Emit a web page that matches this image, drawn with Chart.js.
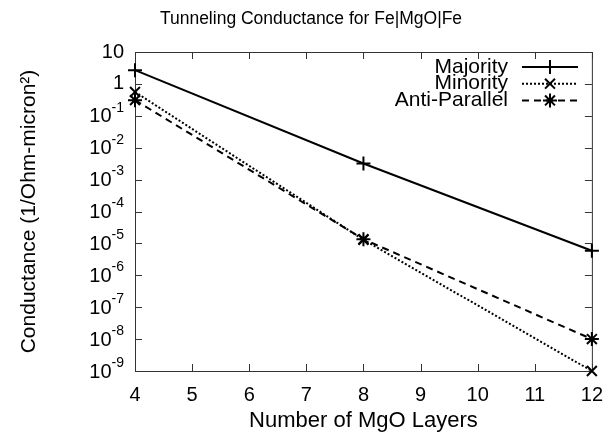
<!DOCTYPE html>
<html>
<head>
<meta charset="utf-8">
<script src="https://cdn.jsdelivr.net/npm/chart.js@4.4.1/dist/chart.umd.min.js"></script>
<style>
  html, body { margin: 0; padding: 0; background: #fff; }
  #wrap { width: 615px; height: 436px; }
</style>
</head>
<body>
<div id="wrap"><canvas id="grafik"></canvas></div>
<script>
// values
const layers = [4, 8, 12];
const majority = [2.7, 3.2e-3, 5.9e-6];
const minority = [0.56, 1.3e-5, 1.0e-9];
const antiParallel = [0.31, 1.35e-5, 1.0e-8];

const xTicks = [4, 5, 6, 7, 8, 9, 10, 11, 12];
const yTicks = [10, 1, 1e-1, 1e-2, 1e-3, 1e-4, 1e-5, 1e-6, 1e-7, 1e-8, 1e-9];

const chartTitle = 'Tunneling Conductance for Fe|MgO|Fe';
const FONT = "'Liberation Sans', Arial, sans-serif";

function pts(arr) {
    return layers.map((x, i) => ({ x: x, y: arr[i] }));
}

// frame, inward ticks on all four sides, y labels and the title
const frameTicks = {
    id: 'frameTicks',
    beforeDatasetsDraw(chart) {
        const ctx = chart.ctx;
        const a = chart.chartArea;
        const xs = chart.scales.x, ys = chart.scales.y;
        ctx.save();
        ctx.strokeStyle = '#333';
        ctx.lineWidth = 1;
        ctx.strokeRect(a.left + 0.5, a.top + 0.5, a.right - a.left, a.bottom - a.top);
        ctx.beginPath();
        xTicks.forEach(v => {
            const px = Math.round(xs.getPixelForValue(v)) + 0.5;
            ctx.moveTo(px, a.bottom); ctx.lineTo(px, a.bottom - 7);
            ctx.moveTo(px, a.top); ctx.lineTo(px, a.top + 7);
        });
        yTicks.forEach(v => {
            const py = Math.round(ys.getPixelForValue(v)) + 0.5;
            ctx.moveTo(a.left, py); ctx.lineTo(a.left + 7, py);
            ctx.moveTo(a.right, py); ctx.lineTo(a.right - 7, py);
        });
        ctx.stroke();

        ctx.fillStyle = '#000';
        ctx.textBaseline = 'middle';

        // title, sits a little left of the plot centre like the original
        ctx.textAlign = 'center';
        ctx.font = '17.5px ' + FONT;
        ctx.fillText(chartTitle, 311, 19);

        // y tick labels: 10 with a raised exponent
        ctx.textAlign = 'right';
        const right = a.left - 11;
        yTicks.forEach(v => {
            const py = ys.getPixelForValue(v);
            const e = Math.round(Math.log10(v));
            if (e >= 0) {
                ctx.font = '20px ' + FONT;
                ctx.fillText(e === 1 ? '10' : '1', right, py);
                return;
            }
            ctx.font = '14px ' + FONT;
            const ex = String(e);
            const w = ctx.measureText(ex).width;
            ctx.fillText(ex, right, py - 8);
            ctx.font = '20px ' + FONT;
            ctx.fillText('10', right - w, py + 1);
        });
        ctx.restore();
    }
};

// gnuplot style key: text right aligned, sample line with marker
const keyBox = {
    id: 'keyBox',
    afterDraw(chart) {
        const ctx = chart.ctx;
        ctx.save();
        ctx.font = '21px ' + FONT;
        ctx.textAlign = 'right';
        ctx.textBaseline = 'middle';
        ctx.fillStyle = '#000';
        chart.data.datasets.forEach((ds, i) => {
            const y = 67 + i * 16.7;
            ctx.fillText(ds.label, 508, y);
            ctx.beginPath();
            ctx.setLineDash(ds.borderDash || []);
            ctx.strokeStyle = ds.borderColor;
            ctx.lineWidth = ds.borderWidth;
            ctx.moveTo(522, y);
            ctx.lineTo(578, y);
            ctx.stroke();
            ctx.setLineDash([]);
            Chart.helpers.drawPoint(ctx, {
                pointStyle: ds.pointStyle,
                radius: ds.pointRadius,
                borderWidth: ds.pointBorderWidth
            }, 550, y);
        });
        ctx.restore();
    }
};

const ctx = document.getElementById('grafik').getContext('2d');

const veri = {
    datasets: [{
        label: 'Majority',
        data: pts(majority),
        borderColor: '#000',
        borderWidth: 2,
        pointStyle: 'cross',
        pointRadius: 7,
        pointBorderWidth: 2,
        pointBorderColor: '#000'
    }, {
        label: 'Minority',
        data: pts(minority),
        borderColor: '#000',
        borderWidth: 2,
        borderDash: [2, 2],
        pointStyle: 'crossRot',
        pointRadius: 7,
        pointBorderWidth: 2,
        pointBorderColor: '#000'
    }, {
        label: 'Anti-Parallel',
        data: pts(antiParallel),
        borderColor: '#000',
        borderWidth: 2,
        borderDash: [7, 5],
        pointStyle: 'star',
        pointRadius: 7,
        pointBorderWidth: 2,
        pointBorderColor: '#000'
    }]
};

const con = {
    type: 'line',
    data: veri,
    options: {
        responsive: true,
        maintainAspectRatio: false,
        animation: false,
        clip: false,
        layout: { padding: { left: 0, right: 12, top: 52, bottom: 0 } },
        plugins: {
            legend: { display: false },
            tooltip: { enabled: false },
            title: { display: false }
        },
        scales: {
            x: {
                type: 'linear',
                min: 4,
                max: 12,
                afterBuildTicks: s => { s.ticks = xTicks.map(v => ({ value: v })); },
                afterFit: s => { s.height = 65; },
                grid: { display: false, drawTicks: false },
                border: { display: false },
                ticks: {
                    color: '#000',
                    padding: 12,
                    maxRotation: 0,
                    font: { family: FONT, size: 20 }
                },
                title: {
                    display: true,
                    text: 'Number of MgO Layers',
                    color: '#000',
                    font: { family: FONT, size: 22 },
                    padding: { top: 0, bottom: 2 }
                }
            },
            y: {
                type: 'logarithmic',
                min: 1e-9,
                max: 10,
                afterBuildTicks: s => { s.ticks = yTicks.map(v => ({ value: v })); },
                afterFit: s => { s.width = 135; },
                grid: { display: false, drawTicks: false },
                border: { display: false },
                ticks: {
                    // labels drawn by frameTicks with a real exponent
                    display: false
                },
                title: {
                    display: true,
                    text: 'Conductance (1/Ohm-micron²)',
                    color: '#000',
                    font: { family: FONT, size: 21 },
                    padding: { top: 17, bottom: 0 }
                }
            }
        }
    },
    plugins: [frameTicks, keyBox]
};

new Chart(ctx, con);
</script>
</body>
</html>
